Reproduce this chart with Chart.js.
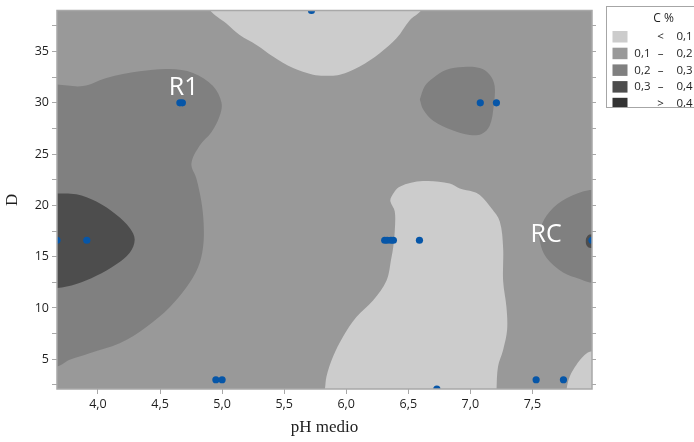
<!DOCTYPE html>
<html>
<head>
<meta charset="utf-8">
<script src="https://cdn.jsdelivr.net/npm/chart.js@4.4.1/dist/chart.umd.min.js"></script>
<style>
  html, body { margin: 0; padding: 0; background: #ffffff; }
  #wrap { width: 694px; height: 442px; position: relative; }
</style>
</head>
<body>
<div id="wrap"><canvas id="c" width="694" height="442"></canvas></div>
<script>
// ---- measured samples: pH medio vs D ----
const phValues = [5.72, 4.66, 4.68, 7.08, 7.21, 3.67, 3.91, 6.31, 6.33, 6.36, 6.38, 6.59, 7.98, 4.95, 5.00, 6.73, 7.53, 7.75];
const dValues  = [39,   30,   30,   30,   30,   16.6, 16.6, 16.6, 16.6, 16.6, 16.6, 16.6, 16.6, 3,    3,    2.1,  3,    3];

// ---- contour levels of C % ----
const levelLower  = [null, 0.1, 0.2, 0.3, 0.4];
const levelUpper  = [0.1, 0.2, 0.3, 0.4, null];
const levelColors = ['#cccccc', '#999999', '#808080', '#4d4d4d', '#333333'];
const legendTitle = 'C %';

// ---- axis ticks ----
const xTickValues = [4.0, 4.5, 5.0, 5.5, 6.0, 6.5, 7.0, 7.5];
const yTickValues = [2.5, 5, 7.5, 10, 12.5, 15, 17.5, 20, 22.5, 25, 27.5, 30, 32.5, 35, 37.5];
const yLabelValues = [5, 10, 15, 20, 25, 30, 35];

// ---- contour band outlines [pH, D] ----
const bandTopLight = [[4.88,40.5],[4.90,39.08],[5.035,37.73],[5.142,36.6],[5.277,35.64],[5.41,34.52],[5.572,33.39],
  [5.733,32.74],[5.841,32.65],[5.948,32.74],[6.109,33.55],[6.27,34.84],[6.405,36.29],[6.512,38.05],[6.606,39.08],[6.62,40.5]];

const bandLeftMid = [[3.4,31.8],[3.67,31.78],[3.879,31.63],[4.068,32.43],[4.336,33.07],[4.578,33.29],[4.766,32.91],
  [4.927,31.63],[4.995,30.02],[4.981,28.73],[4.914,27.12],[4.82,25.84],[4.753,24.07],[4.793,22.62],[4.833,20.37],
  [4.852,18.12],[4.846,15.87],[4.806,13.94],[4.713,12.01],[4.578,10.08],[4.39,8.15],[4.175,6.55],[3.933,5.59],
  [3.772,4.94],[3.67,4.29],[3.4,4.1]];

const bandLeftDark = [[3.4,21.2],[3.67,21.17],[3.826,21.08],[3.987,20.37],[4.148,19.08],[4.256,17.79],[4.296,16.68],
  [4.256,15.39],[4.148,14.27],[3.987,13.14],[3.826,12.34],[3.67,11.95],[3.4,11.9]];

const bandUpperRightMid = [[6.593,30.33],[6.633,31.63],[6.70,32.43],[6.808,33.23],[6.941,33.49],[7.076,33.39],
  [7.156,32.74],[7.196,31.63],[7.188,29.7],[7.156,27.77],[7.09,26.96],[6.995,26.86],[6.861,27.29],[6.70,28.25],
  [6.619,29.37],[6.593,30.33]];

const bandCentreLight = [[5.80,1.0],[5.827,2.05],[5.841,3.33],[5.894,5.26],[5.974,7.19],[6.082,9.12],[6.216,10.73],
  [6.324,12.66],[6.364,14.9],[6.378,15.87],[6.391,17.5],[6.391,19.41],[6.356,20.37],[6.364,20.85],[6.431,21.82],
  [6.619,22.37],[6.834,22.14],[6.915,21.65],[7.022,21.34],[7.076,21.02],[7.17,19.73],[7.237,18.44],[7.264,15.87],
  [7.264,12.66],[7.291,10.08],[7.296,7.84],[7.264,5.91],[7.223,4.30],[7.211,2.05],[7.21,1.0]];

const bandLowerRightLight = [[7.775,1.0],[7.775,2.05],[7.801,3.33],[7.855,4.46],[7.908,5.26],[7.962,5.74],[8.2,5.9],[8.2,1.0]];

const bandRightMid = [[8.2,21.6],[7.962,21.5],[7.775,20.69],[7.64,19.41],[7.565,17.79],[7.56,16.51],[7.613,14.9],
  [7.747,13.46],[7.881,12.82],[7.962,12.49],[8.2,12.4]];

const bandRightDark = [[8.2,17.3],[7.96,17.16],[7.935,16.85],[7.93,16.5],[7.935,16.15],[7.96,15.87],[8.2,15.8]];

const bands = [
  { level: 0, outline: bandTopLight },
  { level: 2, outline: bandLeftMid },
  { level: 3, outline: bandLeftDark },
  { level: 2, outline: bandUpperRightMid },
  { level: 0, outline: bandCentreLight },
  { level: 0, outline: bandLowerRightLight },
  { level: 2, outline: bandRightMid },
  { level: 3, outline: bandRightDark }
];

// ---- point tags ----
const tagTexts = ['R1', 'RC'];
const tagPh    = [4.69, 7.61];
const tagD     = [31.45, 17.1];

const fmt = v => v.toFixed(1).replace('.', ',');
const textDark = '#1e1e1e';
const axisGrey = '#a8a8a8';

// base band (0,1 – 0,2) fills the plotting area
const basePlugin = {
  id: 'baseBand',
  beforeDatasetsDraw(chart) {
    const { ctx, chartArea: a } = chart;
    ctx.save();
    ctx.fillStyle = levelColors[1];
    ctx.fillRect(a.left, a.top, a.right - a.left, a.bottom - a.top);
    ctx.restore();
  },
  afterDatasetsDraw(chart) {
    const { ctx, chartArea: a, scales } = chart;
    ctx.save();
    // point tags
    ctx.fillStyle = '#ffffff';
    ctx.font = '25px "Open Sans"';
    ctx.textAlign = 'center';
    ctx.textBaseline = 'middle';
    tagTexts.forEach((t, i) => {
      ctx.fillText(t, scales.x.getPixelForValue(tagPh[i]), scales.y.getPixelForValue(tagD[i]));
    });
    // frame
    ctx.strokeStyle = axisGrey;
    ctx.lineWidth = 1.5;
    ctx.strokeRect(a.left, a.top, a.right - a.left, a.bottom - a.top);
    ctx.restore();
  }
};

// level key on the right
const keyPlugin = {
  id: 'levelKey',
  afterDraw(chart) {
    const ctx = chart.ctx;
    const bx = 606.5, by = 6.5, bw = 110, bh = 101;
    ctx.save();
    ctx.fillStyle = '#ffffff';
    ctx.fillRect(bx, by, bw, bh);
    ctx.beginPath();
    ctx.rect(bx, by, bw, bh);
    ctx.clip();
    ctx.fillStyle = textDark;
    ctx.font = '12px "Open Sans"';
    ctx.textAlign = 'center';
    ctx.textBaseline = 'middle';
    ctx.fillText(legendTitle, 663.5, 19);
    ctx.font = '11.5px "Open Sans"';
    levelColors.forEach((c, i) => {
      const y = 31 + i * 16.7;
      ctx.fillStyle = c;
      ctx.fillRect(612.5, y, 15, 11.5);
      ctx.fillStyle = textDark;
      const ty = y + 6;
      const lo = levelLower[i], hi = levelUpper[i];
      let left = '', sym = '', right = '';
      if (lo === null) { sym = '<'; right = fmt(hi); }
      else if (hi === null) { sym = '>'; right = fmt(lo); }
      else { left = fmt(lo); sym = '–'; right = fmt(hi); }
      ctx.textAlign = 'right';
      ctx.fillText(left, 650.5, ty);
      ctx.textAlign = 'center';
      ctx.fillText(sym, 660.5, ty);
      ctx.textAlign = 'left';
      ctx.fillText(right, 676.5, ty);
    });
    ctx.restore();
    ctx.save();
    ctx.strokeStyle = '#a6a6a6';
    ctx.lineWidth = 1;
    ctx.strokeRect(bx, by, bw, bh);
    ctx.restore();
  }
};

const bandDatasets = bands.map(b => ({
  type: 'line',
  data: b.outline.map(([x, y]) => ({ x, y })),
  backgroundColor: levelColors[b.level],
  borderColor: 'rgba(0,0,0,0)',
  borderWidth: 0,
  pointRadius: 0,
  fill: 'shape',
  tension: 0.35,
  order: 10 - b.level
}));

const pointDataset = {
  type: 'scatter',
  data: phValues.map((x, i) => ({ x, y: dValues[i] })),
  backgroundColor: '#0656a8',
  borderWidth: 0,
  pointRadius: 3.6,
  clip: 0,
  order: 0
};

new Chart(document.getElementById('c'), {
  type: 'scatter',
  data: { datasets: [...bandDatasets, pointDataset] },
  options: {
    responsive: false,
    animation: false,
    devicePixelRatio: 1,
    layout: { padding: { top: 6, right: 96, bottom: 0, left: 0 } },
    elements: { line: { capBezierPoints: false } },
    plugins: { legend: { display: false }, tooltip: { enabled: false } },
    events: [],
    scales: {
      x: {
        type: 'linear', position: 'bottom', min: 3.67, max: 7.98,
        afterBuildTicks: s => { s.ticks = xTickValues.map(v => ({ value: v })); },
        afterFit: s => { s.height = 53; },
        ticks: { callback: v => fmt(v), color: textDark, font: { family: 'Open Sans', size: 12.5 }, padding: 3, maxRotation: 0 },
        grid: { drawOnChartArea: false, drawTicks: true, tickLength: 5, color: axisGrey },
        border: { display: false },
        title: { display: true, text: 'pH medio', color: textDark, font: { family: 'Liberation Serif', size: 17 }, padding: { top: 0, bottom: 4 } }
      },
      y: {
        type: 'linear', position: 'left', min: 2.1, max: 39,
        afterBuildTicks: s => { s.ticks = yTickValues.map(v => ({ value: v })); },
        afterFit: s => { s.width = 57; },
        ticks: { callback: v => (yLabelValues.includes(v) ? String(v) : ''), color: textDark, font: { family: 'Open Sans', size: 12.5 }, padding: 3 },
        grid: { drawOnChartArea: false, drawTicks: true, tickLength: 5, color: axisGrey },
        border: { display: false },
        title: { display: true, text: 'D', color: textDark, font: { family: 'Liberation Serif', size: 17 }, padding: { top: 2, bottom: 0 } }
      },
      y2: {
        type: 'linear', position: 'right', min: 2.1, max: 39,
        afterBuildTicks: s => { s.ticks = yTickValues.map(v => ({ value: v })); },
        afterFit: s => { s.width = 6; },
        ticks: { callback: () => '', padding: 0 },
        grid: { drawOnChartArea: false, drawTicks: true, tickLength: 4, color: axisGrey },
        border: { display: false }
      }
    }
  },
  plugins: [basePlugin, keyPlugin]
});
</script>
</body>
</html>
